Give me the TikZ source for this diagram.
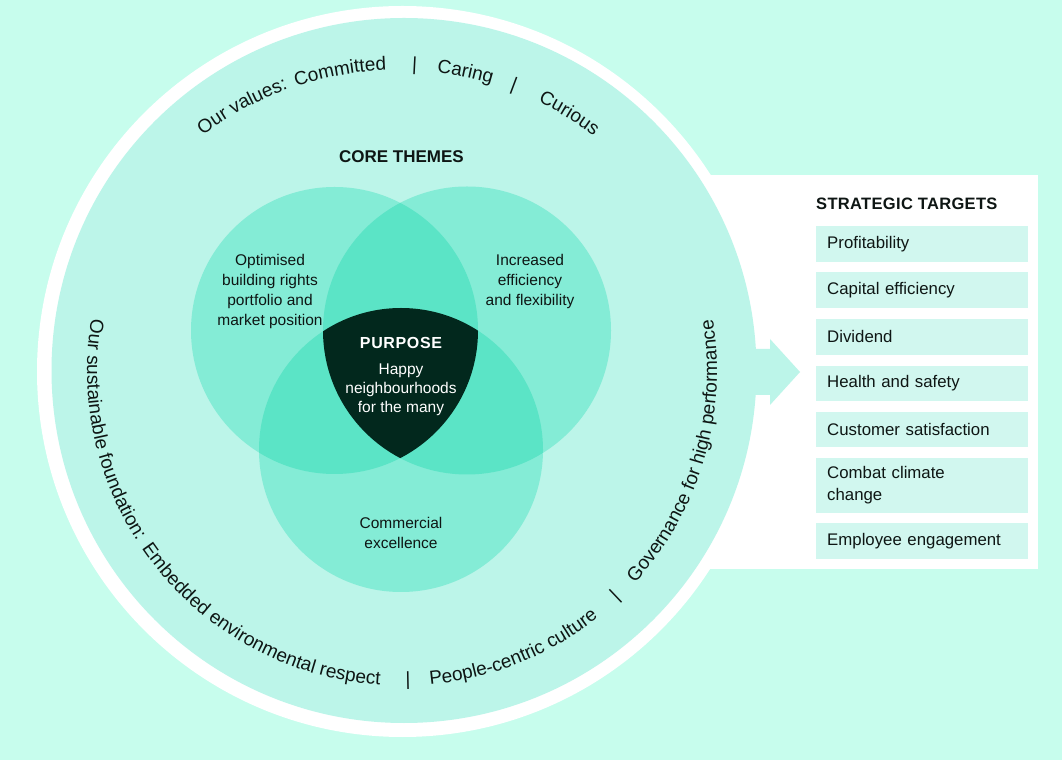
\documentclass[tikz,border=0pt]{standalone}
\usepackage{fontspec}
\setmainfont{Liberation Sans}
\usetikzlibrary{decorations.text}
\definecolor{bg}{RGB}{199,253,237}
\definecolor{innerc}{RGB}{188,245,233}
\definecolor{vone}{RGB}{132,236,214}
\definecolor{vtwo}{RGB}{91,228,198}
\definecolor{corec}{RGB}{2,40,29}
\definecolor{boxc}{RGB}{209,247,239}
\definecolor{ink}{RGB}{14,22,20}
\newcommand\arcfont{\fontsize{19}{22}\selectfont}
\tikzset{
  arctext/.style={decorate, decoration={text along path, text={|\arcfont|#1}, text color=ink}},
  barnode/.style={font=\arcfont, text=ink, inner sep=0pt, anchor=base},
  vtext/.style={font=\fontsize{15.5}{20}\selectfont, align=center, text=ink, inner sep=0pt},
  tbox/.style={fill=boxc, anchor=west, text width=190pt, inner xsep=11pt, inner ysep=0pt,
    align=left, font=\fontsize{16.8}{22}\selectfont, text=ink},
  headtext/.style={font=\bfseries\fontsize{17}{20}\selectfont, text=ink, inner sep=0pt}
}
\begin{document}
\begin{tikzpicture}[x=1pt,y=1pt]
\useasboundingbox (0,0) rectangle (1062,760);
\fill[bg] (0,0) rectangle (1062,760);
% white panel and ring
\fill[white] (650,191) rectangle (1038,585);
\fill[white] (402.5,388.5) circle[radius=365.5pt];
\fill[innerc] (404,389.5) circle[radius=352.5pt];
% arrow
\fill[innerc] (745,365) -- (770,365) -- (770,355) -- (800,388) -- (770,421) -- (770,411) -- (745,411) -- cycle;
% Venn circles
\fill[vone] (334.5,429.5) circle[radius=143.5pt];
\fill[vone] (467,429.5) circle[radius=144pt];
\fill[vone] (401,310) circle[radius=142pt];
\begin{scope}
  \clip (334.5,429.5) circle[radius=143.5pt];
  \fill[vtwo] (467,429.5) circle[radius=144pt];
  \fill[vtwo] (401,310) circle[radius=142pt];
\end{scope}
\begin{scope}
  \clip (467,429.5) circle[radius=144pt];
  \fill[vtwo] (401,310) circle[radius=142pt];
\end{scope}
\begin{scope}
  \clip (334.5,429.5) circle[radius=143.5pt];
  \clip (467,429.5) circle[radius=144pt];
  \fill[corec] (401,310) circle[radius=142pt];
\end{scope}
% centres of the curved texts
\coordinate (T) at (398,366);
\coordinate (B) at (402,389);
% top curved text (clockwise)
\path[arctext={Our values:}] ([shift={(127:324pt)}]T) arc[start angle=127, end angle=95, radius=324pt];
\path[arctext={Committed}] ([shift={(108.3:324pt)}]T) arc[start angle=108.3, end angle=85, radius=324pt];
\path[arctext={Caring}] ([shift={(83.1:324pt)}]T) arc[start angle=83.1, end angle=65, radius=324pt];
\path[arctext={Curious}] ([shift={(64.4:324pt)}]T) arc[start angle=64.4, end angle=40, radius=324pt];
\node[barnode, rotate=-2.9] (sepa) at ([shift={(87.1:324pt)}]T) {|};
\node[barnode, rotate=-20.6] (sepb) at ([shift={(69.4:324pt)}]T) {|};
% bottom curved text (counter-clockwise)
\path[arctext={Our sustainable foundation:}] ([shift={(170.4:315pt)}]B) arc[start angle=170.4, end angle=230, radius=315pt];
\path[arctext={Embedded environmental respect}] ([shift={(214.3:315pt)}]B) arc[start angle=214.3, end angle=280, radius=315pt];
\path[arctext={People-centric culture}] ([shift={(275.1:315pt)}]B) arc[start angle=275.1, end angle=320, radius=315pt];
\path[arctext={Governance for high performance}] ([shift={(317.7:315pt)}]B) arc[start angle=317.7, end angle=385, radius=315pt];
\node[barnode, rotate=1.1] (sepc) at ([shift={(271.1:315pt)}]B) {|};
\node[barnode, rotate=43.5] (sepd) at ([shift={(313.5:315pt)}]B) {|};
% titles and labels
\node[headtext] (core) at (401.5,603.3) {CORE THEMES};
\node[vtext] (la) at (270,469) {Optimised\\building rights\\portfolio and\\market position};
\node[vtext] (lb) at (530,479) {Increased\\efficiency\\and flexibility};
\node[vtext] (lc) at (401,227.3) {Commercial\\excellence};
\node[font=\bfseries\fontsize{16}{19}\selectfont\addfontfeature{LetterSpace=4}, text=white, inner sep=0pt] (purp) at (401,417) {PURPOSE};
\node[vtext, text=white, font=\fontsize{15.5}{19}\selectfont] (happy) at (401,370) {Happy\\neighbourhoods\\for the many};
% strategic targets
\node[headtext, font=\bfseries\fontsize{16.5}{20}\selectfont\addfontfeature{LetterSpace=2}, anchor=west] (st) at (816,556) {STRATEGIC TARGETS};
\node[tbox, minimum height=36pt] (t1) at (816,516) {Profitability};
\node[tbox, minimum height=36pt] (t2) at (816,470) {Capital efficiency};
\node[tbox, minimum height=36pt] (t3) at (816,423) {Dividend};
\node[tbox, minimum height=35pt] (t4) at (816,376.5) {Health and safety};
\node[tbox, minimum height=35pt] (t5) at (816,330.5) {Customer satisfaction};
\node[tbox, minimum height=55pt] (t6) at (816,274.5) {Combat climate\\change};
\node[tbox, minimum height=36pt] (t7) at (816,219) {Employee engagement};
\end{tikzpicture}
\end{document}
